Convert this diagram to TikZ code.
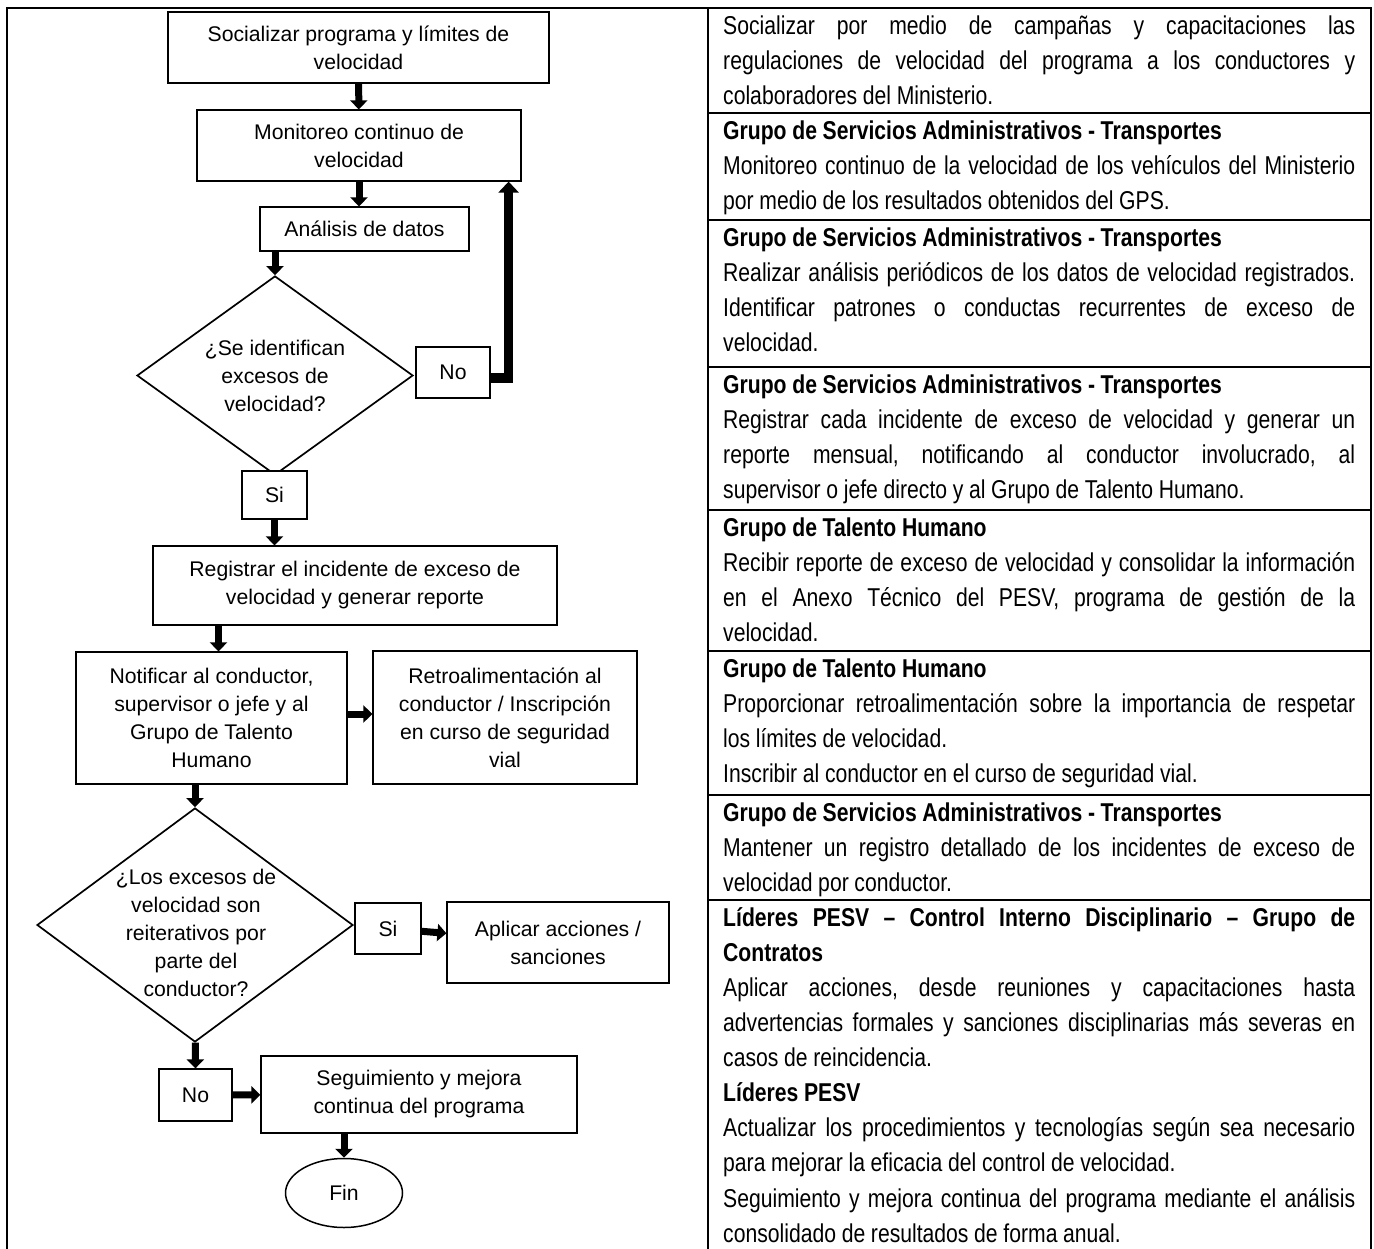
\documentclass[tikz,border=0pt]{standalone}
\usepackage{fontspec}
\setmainfont{Liberation Sans}
\newfontfamily\narrowfont{Liberation Sans}[FakeStretch=0.82]
\usetikzlibrary{shapes}
\usetikzlibrary{graphs}
\usetikzlibrary{arrows.meta}

\begin{document}
\begin{tikzpicture}[x=1pt, y=-1pt,
        every node/.style={inner sep=0pt, align=center, font=\fontsize{21.2}{28}\selectfont},
        box/.style={draw, line width=1.2pt, fill=white},
        decision/.style={draw, line width=1.7pt, diamond},
        flow/.style={draw, line width=7pt, -{Triangle[length=9pt, width=17pt]}},
        loopback/.style={draw, line width=9pt, -{Triangle[length=11pt, width=20pt]}},
        frame/.style={line width=2pt},
        cell/.style={anchor=north west, text width=632pt, align=justify,
            font=\narrowfont\fontsize{25.8}{35.1}\selectfont,
            execute at begin node={\frenchspacing\spaceskip=.22em plus .4em minus .07em
                \hyphenpenalty=10000 \tolerance=10000 \noindent\rule{0pt}{26pt}}}]
        \useasboundingbox (0,0) rectangle (1374,1249);

        \node[box, minimum width=381pt, minimum height=71pt] (soc) at (358.5,47.5) {Socializar programa y límites de\\velocidad};
        \node[box, minimum width=324pt, minimum height=71pt] (mon) at (359,145.5) {Monitoreo continuo de\\velocidad};
        \node[box, minimum width=209pt, minimum height=44pt] (ana) at (364.5,229) {Análisis de datos};
        \node[decision, aspect=1.39, minimum width=276pt, minimum height=199pt] (ident) at (275,375.5) {¿Se identifican\\excesos de\\velocidad?};
        \node[box, minimum width=74pt, minimum height=51pt] (no1) at (453,372.5) {No};
        \node[box, minimum width=65pt, minimum height=48pt] (si1) at (274.5,495) {Si};
        \node[box, minimum width=404pt, minimum height=79pt] (reg) at (355,585.5) {Registrar el incidente de exceso de\\velocidad y generar reporte};
        \node[box, minimum width=271pt, minimum height=132pt] (noti) at (211.5,718) {Notificar al conductor,\\supervisor o jefe y al\\Grupo de Talento\\Humano};
        \node[box, minimum width=264pt, minimum height=133pt] (retro) at (505,717.5) {Retroalimentación al\\conductor / Inscripción\\en curso de seguridad\\vial};
        \node[decision, minimum width=316pt, minimum height=234pt] (reit) at (195,925) {};
        \node (reit text) at (196,933) {¿Los excesos de\\velocidad son\\reiterativos por\\parte del\\conductor?};
        \node[box, minimum width=66pt, minimum height=51pt] (si2) at (388,928.5) {Si};
        \node[box, minimum width=222pt, minimum height=81pt] (apl) at (558,942.5) {Aplicar acciones /\\sanciones};
        \node[box, minimum width=73pt, minimum height=52pt] (no2) at (195.5,1095) {No};
        \node[box, minimum width=316pt, minimum height=77pt] (seg) at (419,1094.5) {Seguimiento y mejora\\continua del programa};
        \node[draw, ellipse, line width=1.5pt, minimum width=117pt, minimum height=69pt] (fin) at (344,1193) {Fin};

        \coordinate (mon port) at ([xshift=-13pt]mon.south east);

        \graph { [edges={flow}]
            (soc) -> (mon),
            (reit) -> (no2),
            (si2) -> (apl),
            (no2) -> (seg),
        };

        \draw[flow] (mon.south) -- (mon.south |- ana.north);
        \draw[flow] (ident.north |- ana.south) -- (ident.north);
        \draw[loopback] ([yshift=-5.5pt]no1.east) -| (mon port);
        \draw[flow] (si1.south) -- (si1.south |- reg.north);
        \draw[flow] ([xshift=7pt]noti.north |- reg.south) -- ([xshift=7pt]noti.north);
        \draw[flow] ([yshift=4pt]noti.east) -- ([yshift=4pt]noti.east -| retro.west);
        \draw[flow] (reit.north |- noti.south) -- (reit.north);
        \draw[flow] (fin.north |- seg.south) -- (fin.north);

        \draw[frame] (7,1249) -- (7,8) -- (1371,8) -- (1371,1249);
        \draw[frame] (708,8) -- (708,1249);
        \foreach \y in {113,220,367,510,651,795,900}
            \draw[frame] (708,\y) -- (1371,\y);

        \node[cell] (row1) at (723,8) {Socializar por medio de campañas y capacitaciones las\linebreak regulaciones de velocidad del programa a los conductores y\linebreak colaboradores del Ministerio.};
        \node[cell] (row2) at (723,113) {\textbf{Grupo de Servicios Administrativos - Transportes}\\Monitoreo continuo de la velocidad de los vehículos del Ministerio\linebreak por medio de los resultados obtenidos del GPS.};
        \node[cell] (row3) at (723,220) {\textbf{Grupo de Servicios Administrativos - Transportes}\\Realizar análisis periódicos de los datos de velocidad registrados.\linebreak Identificar patrones o conductas recurrentes de exceso de\linebreak velocidad.};
        \node[cell] (row4) at (723,367) {\textbf{Grupo de Servicios Administrativos - Transportes}\\Registrar cada incidente de exceso de velocidad y generar un\linebreak reporte mensual, notificando al conductor involucrado, al\linebreak supervisor o jefe directo y al Grupo de Talento Humano.};
        \node[cell] (row5) at (723,510) {\textbf{Grupo de Talento Humano}\\Recibir reporte de exceso de velocidad y consolidar la información\linebreak en el Anexo Técnico del PESV, programa de gestión de la\linebreak velocidad.};
        \node[cell] (row6) at (723,651) {\textbf{Grupo de Talento Humano}\\Proporcionar retroalimentación sobre la importancia de respetar\linebreak los límites de velocidad.\\Inscribir al conductor en el curso de seguridad vial.};
        \node[cell] (row7) at (723,795) {\textbf{Grupo de Servicios Administrativos - Transportes}\\Mantener un registro detallado de los incidentes de exceso de\linebreak velocidad por conductor.};
        \node[cell] (row8) at (723,900) {\textbf{Líderes PESV – Control Interno Disciplinario – Grupo de\linebreak Contratos}\\Aplicar acciones, desde reuniones y capacitaciones hasta\linebreak advertencias formales y sanciones disciplinarias más severas en\linebreak casos de reincidencia.\\\textbf{Líderes PESV}\\Actualizar los procedimientos y tecnologías según sea necesario\linebreak para mejorar la eficacia del control de velocidad.\\Seguimiento y mejora continua del programa mediante el análisis\linebreak consolidado de resultados de forma anual.};
    \end{tikzpicture}
\end{document}
